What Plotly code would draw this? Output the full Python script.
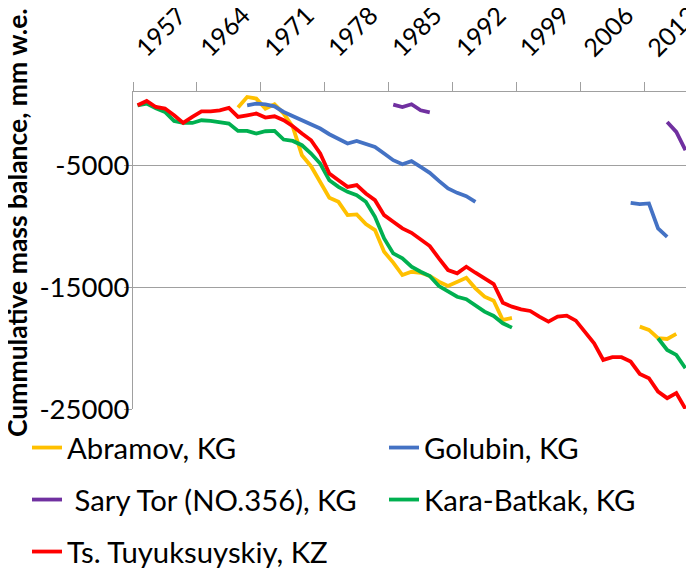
import plotly.graph_objects as go

years = list(range(1957, 2018))

# Cumulative mass balance, mm w.e. (None = no data)
abramov_years = list(range(1968, 1999)) + [None] + list(range(2012, 2017))
abramov = [-278, 590, 459, -360, -7, -769, -1867, -4184, -5085, -6396,
           -7665, -8009, -9098, -9041, -9835, -10327, -12104, -12989, -14013, -13742,
           -13824, -14094, -14561, -14913, -14561, -14233, -15101, -15790, -16117, -17698,
           -17534, None, -18246, -18517, -19196, -19254, -18844]

golubin_years = list(range(1969, 1995)) + [None] + list(range(2011, 2016))
golubin = [-89, 50, -7, -171, -638, -990, -1318, -1645, -1998, -2464,
           -2817, -3226, -3013, -3226, -3505, -4045, -4594, -4921, -4676, -5143,
           -5634, -6289, -6911, -7272, -7542, -8009, None, -8091, -8197, -8140,
           -10188, -10876]

sarytor_years = list(range(1985, 1990)) + [None] + list(range(2015, 2018))
sarytor = [-32, -229, -7, -499, -663, None, -1457, -2276, -3775]

karabatkak_years = list(range(1957, 1999)) + [None] + list(range(2014, 2018))
karabatkak = [-90, 50, -335, -638, -1375, -1539, -1539, -1318, -1375, -1457,
              -1588, -2194, -2194, -2407, -2219, -2194, -2898, -3013, -3365, -4045,
              -4864, -6232, -6781, -7190, -7460, -8009, -9238, -11006, -12235, -12645,
              -13333, -13742, -14094, -14913, -15380, -15790, -16002, -16469, -17018, -17370,
              -17968, -18328, None, -19196, -20154, -20564, -21653]

tuyuksu_years = years
tuyuksu = [-90, 263, -229, -360, -908, -1539, -1048, -581, -581, -499,
           -310, -1048, -908, -769, -1097, -990, -1318, -1809, -2407, -2956,
           -4045, -5683, -6232, -6781, -6641, -7321, -7870, -9098, -9647, -10188,
           -10548, -11088, -11637, -12645, -13603, -13873, -13333, -13824, -14283, -14749,
           -16281, -16608, -16822, -16961, -17428, -17838, -17428, -17346, -17755, -18656,
           -19606, -20974, -20753, -20753, -21113, -22120, -22473, -23570, -24111, -23701,
           -24987]

tick_boundaries = [1956.5, 1963.5, 1970.5, 1977.5, 1984.5, 1991.5, 1998.5, 2005.5, 2012.5]
tick_labels = ["1957", "1964", "1971", "1978", "1985", "1992", "1999", "2006", "2013"]
y_ticks = [-25000, -15000, -5000]
y_labels = ["-25000", "-15000", "-5000"]

# name, x, y, colour, legend id, legend left (px), legend row centre (px)
series = [
    ("Abramov, KG", abramov_years, abramov, "#FFC000", "legend", 27, 448),
    ("Golubin, KG", golubin_years, golubin, "#4472C4", "legend2", 384, 448),
    (" Sary Tor (NO.356), KG", sarytor_years, sarytor, "#7030A0", "legend3", 27, 500),
    ("Kara-Batkak, KG", karabatkak_years, karabatkak, "#00B050", "legend4", 384, 500),
    ("Ts. Tuyuksuyskiy, KZ", tuyuksu_years, tuyuksu, "#FF0000", "legend5", 27, 552),
]

FONT = "Lato"
OFF = 8  # page body margin offset of the figure div
W, H = 694 - OFF, 569 - OFF
L, R, T, B = 133 - OFF, 4, 92 - OFF, 160
pw = W - L - R
ph = H - T - B


def px_x(p):
    return (p - OFF - L) / pw


def px_y(p):
    return (H - B - (p - OFF)) / ph


fig = go.Figure()
legends = {}
for name, xs, ys, col, lg, lx, ly in series:
    fig.add_trace(go.Scatter(x=xs, y=ys, name=name, mode="lines",
                             line=dict(color=col, width=3.8),
                             connectgaps=False, legend=lg, showlegend=True))
    legends[lg] = dict(x=px_x(lx), y=px_y(ly), xanchor="left", yanchor="middle",
                       orientation="h", bgcolor="rgba(0,0,0,0)", visible=True,
                       font=dict(family=FONT, size=29.3, color="#000000"))

fig.update_layout(
    width=W, height=H,
    showlegend=True,
    margin=dict(l=L, r=R, t=T, b=B, autoexpand=False),
    paper_bgcolor="white", plot_bgcolor="white",
    font=dict(family=FONT, color="#000000"),
    xaxis=dict(side="top", range=[1956.5, 2017.5], tickmode="array",
               tickvals=tick_boundaries, ticktext=tick_labels,
               tickangle=-45, ticklabelshift=5, ticklabelstandoff=10,
               ticklabeloverflow="allow",
               ticks="outside", ticklen=9, tickcolor="#a0a0a0", tickwidth=1.3,
               showline=True, linecolor="#a0a0a0", linewidth=1.3,
               showgrid=False, zeroline=False,
               tickfont=dict(family=FONT, size=25, color="#000000")),
    yaxis=dict(range=[-25000, 1000], tickmode="array", tickvals=y_ticks,
               ticktext=y_labels, ticks="outside", ticklen=8,
               tickcolor="#a0a0a0", ticklabelstandoff=-11,
               tickwidth=1.3, showline=True, linecolor="#a0a0a0", linewidth=1.3,
               showgrid=True, gridcolor="#a0a0a0", gridwidth=1.3, zeroline=False,
               ticklabeloverflow="allow",
               tickfont=dict(family=FONT, size=27.5, color="#000000")),
    annotations=[dict(text="<b>Cummulative mass balance, mm w.e.</b>",
                      xref="paper", yref="paper", x=px_x(17), y=px_y(223),
                      xanchor="center", yanchor="middle", textangle=-90,
                      showarrow=False,
                      font=dict(family=FONT, size=26.5, color="#000000"))],
    **legends,
)

fig.write_html("out.html")
